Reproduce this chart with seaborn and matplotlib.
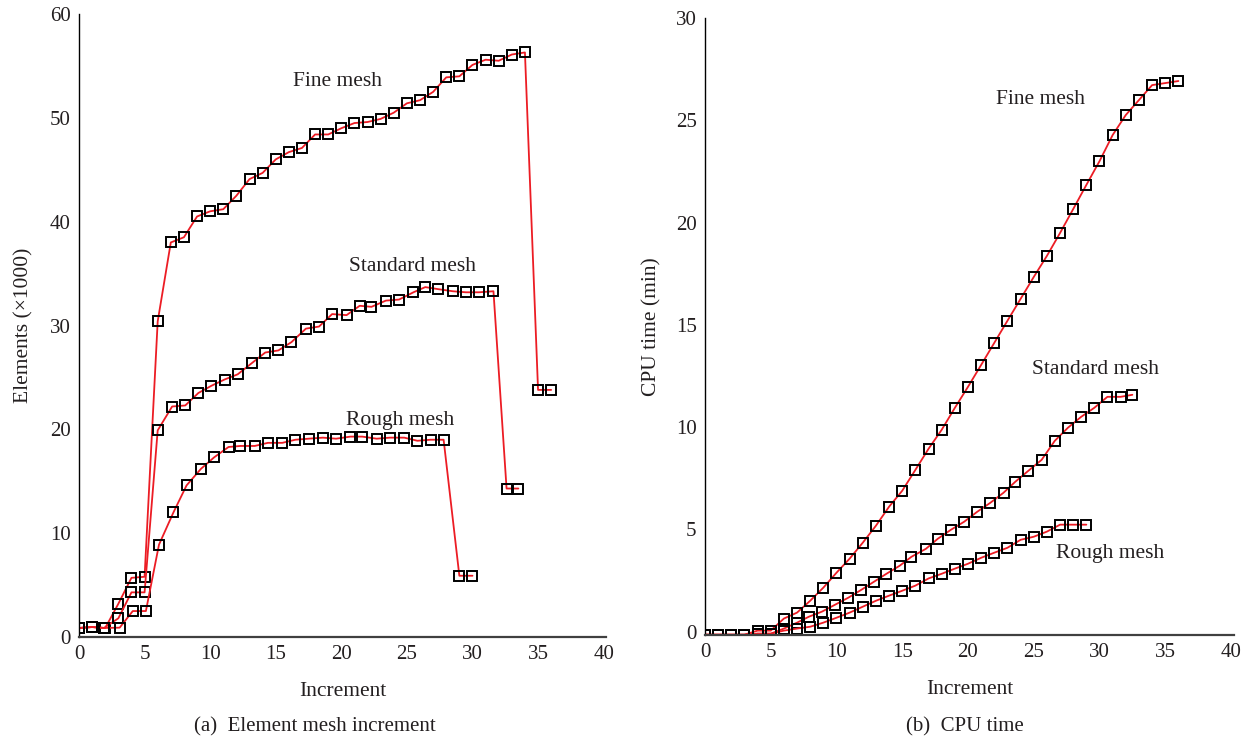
# ============================================
# Mesh increment and CPU time (fine / standard / rough)
# ============================================

import pandas as pd
import numpy as np
import matplotlib
matplotlib.use("Agg")
import matplotlib.pyplot as plt
import seaborn as sns


# 1 Data

# (a) Elements (x1000) per increment
fine_x_a = [0, 1, 2, 3, 4, 5, 6, 7, 8, 9, 10, 11, 12, 13, 14, 15, 16, 17, 18,
            19, 20, 21, 22, 23, 24, 25, 26, 27, 28, 29, 30, 31, 32, 33, 34, 35, 36]
fine_y_a = [0.87, 0.96, 0.87, 3.2, 5.7, 5.8, 30.4, 38.0, 38.5, 40.5, 41.0, 41.2,
            42.5, 44.1, 44.7, 46.0, 46.7, 47.1, 48.4, 48.4, 49.0, 49.5, 49.6,
            49.9, 50.5, 51.4, 51.7, 52.5, 53.9, 54.0, 55.1, 55.6, 55.5, 56.1,
            56.3, 23.8, 23.8]

std_x_a = [0, 1, 1.9, 3.0, 4.0, 5.0, 6.0, 7.1, 8.1, 9.1, 10.1, 11.1, 12.1, 13.2,
           14.2, 15.2, 16.2, 17.3, 18.3, 19.3, 20.4, 21.4, 22.3, 23.4, 24.4,
           25.5, 26.4, 27.4, 28.5, 29.5, 30.5, 31.6, 32.6, 33.5]
std_y_a = [0.87, 0.96, 0.87, 1.8, 4.3, 4.3, 19.9, 22.2, 22.3, 23.5, 24.2, 24.8,
           25.3, 26.4, 27.4, 27.6, 28.4, 29.7, 29.9, 31.1, 31.0, 31.9, 31.8,
           32.4, 32.5, 33.2, 33.7, 33.5, 33.3, 33.2, 33.2, 33.3, 14.3, 14.3]

rough_x_a = [0, 1, 1.9, 3.1, 4.1, 5.1, 6.1, 7.2, 8.2, 9.3, 10.3, 11.4, 12.3,
             13.4, 14.4, 15.5, 16.5, 17.5, 18.6, 19.6, 20.7, 21.6, 22.7, 23.7,
             24.8, 25.8, 26.8, 27.8, 29.0, 30.0]
rough_y_a = [0.87, 0.96, 0.87, 0.9, 2.5, 2.5, 8.9, 12.0, 14.6, 16.2, 17.3, 18.3,
             18.4, 18.4, 18.7, 18.7, 19.0, 19.1, 19.2, 19.1, 19.3, 19.3, 19.1,
             19.2, 19.2, 18.9, 19.0, 19.0, 5.9, 5.9]

# (b) CPU time (min) per increment
fine_x_b = list(range(37))
fine_y_b = [-0.15, -0.15, -0.15, -0.15, 0.05, 0.05, 0.64, 0.93, 1.51, 2.15, 2.88,
            3.57, 4.35, 5.18, 6.11, 6.89, 7.91, 8.94, 9.87, 10.94, 11.97, 13.04,
            14.12, 15.2, 16.27, 17.34, 18.37, 19.49, 20.66, 21.84, 23.0, 24.28,
            25.26, 25.99, 26.72, 26.82, 26.92]

std_x_b = [0, 1, 2, 3, 4, 5, 6.0, 7.0, 7.9, 8.9, 9.9, 10.9, 11.9, 12.85, 13.8,
           14.8, 15.7, 16.8, 17.7, 18.7, 19.7, 20.7, 21.7, 22.7, 23.6, 24.6,
           25.6, 26.6, 27.6, 28.6, 29.6, 30.6, 31.6, 32.5]
std_y_b = [-0.15, -0.15, -0.15, -0.15, -0.1, -0.1, 0.15, 0.44, 0.73, 0.98, 1.32,
           1.66, 2.05, 2.44, 2.83, 3.22, 3.66, 4.05, 4.54, 4.98, 5.37, 5.86,
           6.30, 6.79, 7.33, 7.87, 8.40, 9.33, 9.97, 10.50, 10.94, 11.48,
           11.48, 11.58]

rough_x_b = list(range(30))
rough_y_b = [-0.15, -0.15, -0.15, -0.15, -0.1, -0.1, 0.05, 0.15, 0.24, 0.44,
             0.68, 0.93, 1.22, 1.51, 1.76, 2.0, 2.25, 2.6, 2.83, 3.08, 3.32,
             3.61, 3.86, 4.10, 4.49, 4.64, 4.89, 5.23, 5.23, 5.23]

meshes = ["Fine mesh", "Standard mesh", "Rough mesh"]


def build_frame(series):
    rows = []
    for name, (xs, ys) in zip(meshes, series):
        for x, y in zip(xs, ys):
            rows.append({"Increment": x, "value": y, "mesh": name})
    return pd.DataFrame(rows)


df_a = build_frame([(fine_x_a, fine_y_a), (std_x_a, std_y_a), (rough_x_a, rough_y_a)])
df_b = build_frame([(fine_x_b, fine_y_b), (std_x_b, std_y_b), (rough_x_b, rough_y_b)])


# 2 Style

sns.set_style("white")
plt.rcParams["font.family"] = ["Liberation Serif", "DejaVu Serif"]
text_col = "#231f20"
red = "#ec1c24"
pal = {m: red for m in meshes}


# 3 Figure

fig = plt.figure(figsize=(12.5, 7.42), dpi=100)
ax_a = fig.add_axes([0.0632, 0.1415, 0.4218, 0.8396])
ax_b = fig.add_axes([0.564, 0.1446, 0.4229, 0.8311])

for ax, df in [(ax_a, df_a), (ax_b, df_b)]:
    sns.lineplot(data=df, x="Increment", y="value", hue="mesh", palette=pal,
                 estimator=None, sort=False, marker="s", markersize=7,
                 markerfacecolor="none", markeredgecolor="black",
                 markeredgewidth=1.4, linewidth=1.3, legend=False, ax=ax)
    ax.set_xlim(0, 40.2)
    ax.set_xticks(np.arange(0, 41, 5))
    ax.tick_params(length=0, labelsize=15, colors=text_col, pad=6)
    ax.set_xlabel("Increment", fontsize=15.5, color=text_col, labelpad=13)
    for s in ["top", "right"]:
        ax.spines[s].set_visible(False)
    ax.spines["left"].set_color("black")
    ax.spines["left"].set_linewidth(1.0)
    ax.spines["bottom"].set_color("#404040")
    ax.spines["bottom"].set_linewidth(1.6)

ax_a.set_ylim(0, 60)
ax_a.set_yticks(np.arange(0, 61, 10))
ax_a.set_ylabel("Elements (×1000)", fontsize=15.5, color=text_col, labelpad=12)

ax_b.set_ylim(-0.15, 30)
ax_b.set_yticks(np.arange(0, 31, 5))
ax_b.set_ylabel("CPU time (min)", fontsize=15.5, color=text_col, labelpad=10)


# 4 Labels on the curves

ax_a.text(19.7, 53.5, "Fine mesh", fontsize=15.5, color=text_col, ha="center", va="center")
ax_a.text(25.4, 35.7, "Standard mesh", fontsize=15.5, color=text_col, ha="center", va="center")
ax_a.text(24.5, 20.9, "Rough mesh", fontsize=15.5, color=text_col, ha="center", va="center")

ax_b.text(25.55, 26.0, "Fine mesh", fontsize=15.5, color=text_col, ha="center", va="center")
ax_b.text(29.7, 12.8, "Standard mesh", fontsize=15.5, color=text_col, ha="center", va="center")
ax_b.text(30.8, 3.8, "Rough mesh", fontsize=15.5, color=text_col, ha="center", va="center")


# 5 Captions

fig.text(315 / 1250, 1 - 727 / 742, "(a)  Element mesh increment", fontsize=15,
         color=text_col, ha="center", va="center")
fig.text(965 / 1250, 1 - 727 / 742, "(b)  CPU time", fontsize=15,
         color=text_col, ha="center", va="center")

fig.savefig("out.png", dpi=100)
